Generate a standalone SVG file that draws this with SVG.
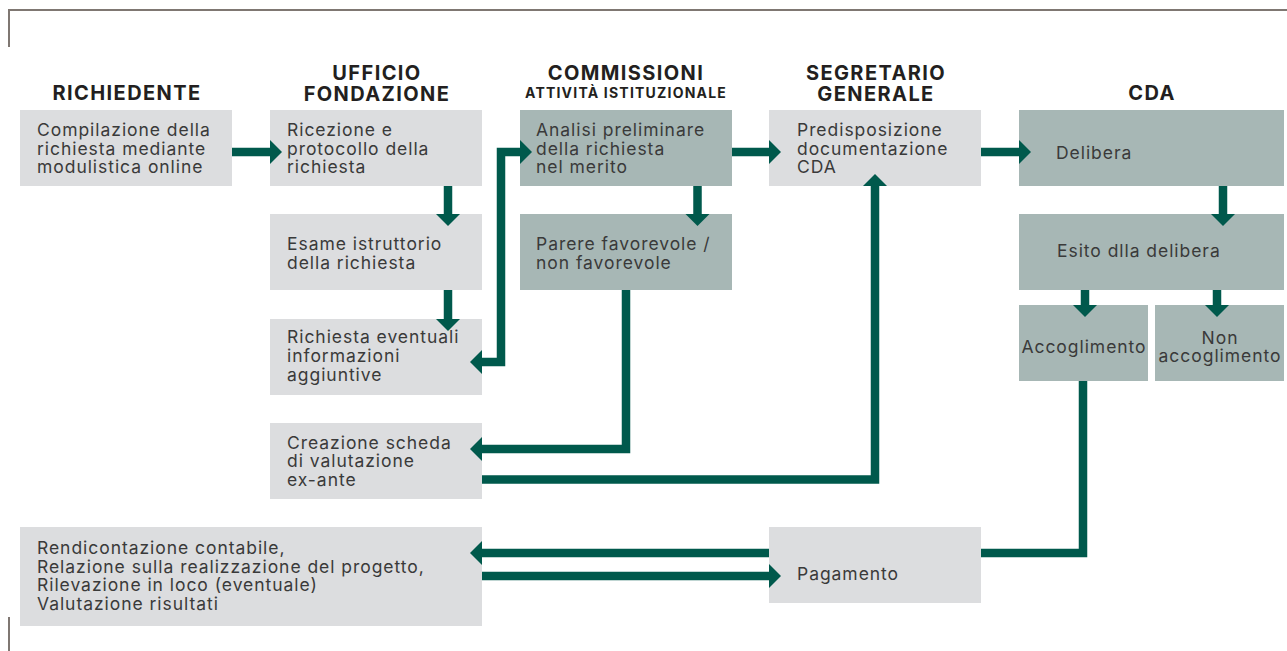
<svg xmlns="http://www.w3.org/2000/svg" width="1287" height="651" viewBox="0 0 1287 651">
<defs>
<style>
.lt{fill:#dcdddf}
.dk{fill:#a7b7b5}
.t{font-family:Inter,"Open Sans","Liberation Sans",sans-serif;font-size:17.5px;letter-spacing:0.95px;fill:#3a3a3a}
.h{font-family:Inter,"Open Sans","Liberation Sans",sans-serif;font-size:20px;letter-spacing:1.4px;font-weight:700;fill:#231f20;text-anchor:middle}
.hs{font-size:14px;letter-spacing:1.2px}
.c{fill:none;stroke:#00594c;stroke-width:8.5;stroke-linejoin:miter;stroke-linecap:butt}
.frame{fill:none;stroke:#7f7772;stroke-width:2}
</style>
<marker id="ah" markerUnits="userSpaceOnUse" markerWidth="14" markerHeight="26" refX="0" refY="12" orient="auto-start-reverse" overflow="visible">
<path d="M0,0 L12,12 L0,24 z" fill="#00594c"/>
</marker>
</defs>
<rect width="1287" height="651" fill="#ffffff"/>
<g id="frame">
<path class="frame" d="M9,47 V10 H1287"/>
<path class="frame" d="M9,617 V651"/>
</g>
<g id="headers">
<text class="h" x="127" y="100">RICHIEDENTE</text>
<text class="h" x="377" y="79.5">UFFICIO</text>
<text class="h" x="377" y="101">FONDAZIONE</text>
<text class="h" x="626" y="79.5">COMMISSIONI</text>
<text class="h hs" x="626" y="98">ATTIVITÀ ISTITUZIONALE</text>
<text class="h" x="876" y="79.5">SEGRETARIO</text>
<text class="h" x="876" y="101">GENERALE</text>
<text class="h" x="1152" y="100">CDA</text>
</g>
<g id="n-compilazione">
<rect class="lt" x="20" y="110" width="212" height="76"/>
<text class="t" x="37" y="136">Compilazione della</text>
<text class="t" x="37" y="154.5">richiesta mediante</text>
<text class="t" x="37" y="173">modulistica online</text>
</g>
<g id="n-ricezione">
<rect class="lt" x="270" y="110" width="212" height="76"/>
<text class="t" x="287" y="136">Ricezione e</text>
<text class="t" x="287" y="154.5">protocollo della</text>
<text class="t" x="287" y="173">richiesta</text>
</g>
<g id="n-analisi">
<rect class="dk" x="520" y="110" width="212" height="76"/>
<text class="t" x="536" y="136">Analisi preliminare</text>
<text class="t" x="536" y="154.5">della richiesta</text>
<text class="t" x="536" y="173">nel merito</text>
</g>
<g id="n-predisposizione">
<rect class="lt" x="769" y="110" width="212" height="76"/>
<text class="t" x="797" y="136">Predisposizione</text>
<text class="t" x="797" y="154.5">documentazione</text>
<text class="t" x="797" y="173">CDA</text>
</g>
<g id="n-delibera">
<rect class="dk" x="1019" y="110" width="265" height="76"/>
<text class="t" x="1056" y="158.5">Delibera</text>
</g>
<g id="n-esame">
<rect class="lt" x="270" y="214" width="212" height="76"/>
<text class="t" x="287" y="250">Esame istruttorio</text>
<text class="t" x="287" y="269">della richiesta</text>
</g>
<g id="n-parere">
<rect class="dk" x="520" y="214" width="212" height="76"/>
<text class="t" x="536" y="250">Parere favorevole /</text>
<text class="t" x="536" y="269">non favorevole</text>
</g>
<g id="n-esito">
<rect class="dk" x="1019" y="214" width="265" height="76"/>
<text class="t" x="1057" y="257">Esito dlla delibera</text>
</g>
<g id="n-richiesta">
<rect class="lt" x="270" y="319" width="212" height="76"/>
<text class="t" x="287" y="343">Richiesta eventuali</text>
<text class="t" x="287" y="362">informazioni</text>
<text class="t" x="287" y="381">aggiuntive</text>
</g>
<g id="n-accoglimento">
<rect class="dk" x="1019" y="305" width="129" height="76"/>
<text class="t" x="1084" y="352.5" text-anchor="middle">Accoglimento</text>
</g>
<g id="n-nonaccoglimento">
<rect class="dk" x="1155" y="305" width="129" height="76"/>
<text class="t" x="1220" y="343.5" text-anchor="middle">Non</text>
<text class="t" x="1220" y="362" text-anchor="middle">accoglimento</text>
</g>
<g id="n-creazione">
<rect class="lt" x="270" y="423" width="212" height="76"/>
<text class="t" x="287" y="448.5">Creazione scheda</text>
<text class="t" x="287" y="467">di valutazione</text>
<text class="t" x="287" y="485.5">ex-ante</text>
</g>
<g id="n-rendicontazione">
<rect class="lt" x="20" y="527" width="462" height="99"/>
<text class="t" x="37" y="554">Rendicontazione contabile,</text>
<text class="t" x="37" y="572.5">Relazione sulla realizzazione del progetto,</text>
<text class="t" x="37" y="591">Rilevazione in loco (eventuale)</text>
<text class="t" x="37" y="609.5">Valutazione risultati</text>
</g>
<g id="n-pagamento">
<rect class="lt" x="769" y="527" width="212" height="76"/>
<text class="t" x="797" y="580">Pagamento</text>
</g>
<g id="connectors">
<path class="c" d="M232,152 H270" marker-end="url(#ah)"/>
<path class="c" d="M732,152 H769" marker-end="url(#ah)"/>
<path class="c" d="M981,152 H1019" marker-end="url(#ah)"/>
<path class="c" d="M448,186 V214" marker-end="url(#ah)"/>
<path class="c" d="M448,290 V319" marker-end="url(#ah)"/>
<path class="c" d="M697.5,186 V214" marker-end="url(#ah)"/>
<path class="c" d="M482,362 H501 V152 H520" marker-start="url(#ah)" marker-end="url(#ah)"/>
<path class="c" d="M626,290 V449 H482" marker-end="url(#ah)"/>
<path class="c" d="M482,479.5 H875 V186" marker-end="url(#ah)"/>
<path class="c" d="M1223,186 V214" marker-end="url(#ah)"/>
<path class="c" d="M1085,290 V305" marker-end="url(#ah)"/>
<path class="c" d="M1217,290 V305" marker-end="url(#ah)"/>
<path class="c" d="M1083,381 V553 H981"/>
<path class="c" d="M769,553 H482" marker-end="url(#ah)"/>
<path class="c" d="M482,576 H769" marker-end="url(#ah)"/>
</g>
</svg>
